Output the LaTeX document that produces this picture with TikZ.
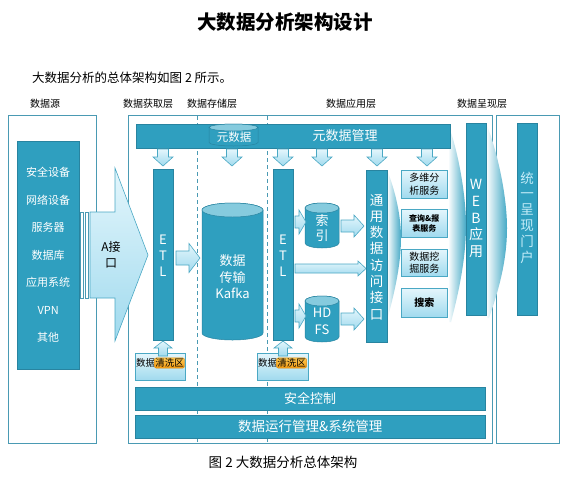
\documentclass[tikz,border=0pt]{standalone}
\usepackage{fontspec}
\setmainfont{Noto Sans CJK SC}
\usetikzlibrary{calc}
\definecolor{tealm}{HTML}{2F9FBF}
\definecolor{tealb}{HTML}{2884A0}
\definecolor{frame}{HTML}{4A9AB3}
\definecolor{lb1}{HTML}{E4F6FC}
\definecolor{lb2}{HTML}{A0DAEE}
\definecolor{arb}{HTML}{4AA8C4}
\definecolor{cyltop}{HTML}{86CBDE}
\definecolor{orl}{HTML}{FFC84E}
\definecolor{ord}{HTML}{F39A12}
\definecolor{orb}{HTML}{D98A10}
\definecolor{pale}{HTML}{C4ECF8}
\newcommand\dnarr[1]{\path[blk] (#1) ++(-5.5,0) -- ++(11,0) -- ++(0,8) -- ++(4.5,0) -- ++(-10,9) -- ++(-10,-9) -- ++(4.5,0) -- cycle;}
\newcommand\rtarr[5]{\path[blk] (#1) ++(0,-#3) -- ++({#2-#5},0) -- ++(0,{#3-#4}) -- ++(#5,#4) -- ++(-#5,#4) -- ++(0,{#3-#4}) -- ++({#5-#2},0) -- cycle;}
\newcommand\uparr[5]{\path[blk] (#1) ++(-#3,0) -- ++(0,{#5-#2}) -- ++({#3-#4},0) -- ++(#4,-#5) -- ++(#4,#5) -- ++({#3-#4},0) -- ++(0,{#2-#5}) -- cycle;}
\newcommand\mycyl[6]{%
 \path[cylbody] (#2,{#3+#6}) -- (#2,{#5-#6}) arc[start angle=180, end angle=0, x radius={(#4-#2)/2}, y radius=#6] -- (#4,{#3+#6}) arc[start angle=0, end angle=-180, x radius={(#4-#2)/2}, y radius=#6] -- cycle;
 \path[cyltopst] ({(#2+#4)/2},{#3+#6}) ellipse[x radius={(#4-#2)/2}, y radius=#6];
 \coordinate (#1) at ({(#2+#4)/2},{(#3+#5)/2});}
\begin{document}
\begin{tikzpicture}[x=1pt,y=-1pt,
 frm/.style={draw=frame, line width=0.8pt, fill=white, rectangle, inner sep=0pt, anchor=north west},
 bar/.style={fill=tealm, draw=tealb, line width=0.4pt, rectangle, inner sep=0pt, anchor=north west, text=white},
 svc/.style={top color=lb1, bottom color=lb2, draw=arb, line width=0.6pt, rectangle, inner sep=0pt, anchor=north west, align=center, minimum width=46pt},
 blk/.style={draw=arb, line width=0.6pt, top color=lb1, bottom color=lb2},
 lbl/.style={inner sep=0pt, font=\fontsize{10}{12}\selectfont},
 vtxt/.style={inner sep=0pt, align=center, text=white},
 cylbody/.style={fill=tealm, draw=tealb, line width=0.5pt},
 cyltopst/.style={fill=cyltop, draw=tealb, line width=0.5pt},
 hl/.style={top color=orl, bottom color=ord, draw=orb, rounded corners=2pt, inner sep=0.8pt, line width=0.4pt},
 dashln/.style={draw=frame, dash pattern=on 4pt off 3pt, line width=0.7pt},
 chev/.style={left color=white, right color=tealm!90},
 strip/.style={draw=frame, fill=white, line width=0.5pt}
]
\useasboundingbox (0,0) rectangle (570,477);
% titles
\node[inner sep=0pt, font=\fontsize{19.5}{22}\selectfont\bfseries] (title) at (285,22) {大数据分析架构设计};
\node[inner sep=0pt, anchor=west, font=\fontsize{12.5}{15}\selectfont] (sub) at (32,78) {大数据分析的总体架构如图 2 所示。};
\node[lbl] (l1) at (45,104) {数据源};
\node[lbl] (l2) at (148,104) {数据获取层};
\node[lbl] (l3) at (212,104) {数据存储层};
\node[lbl] (l4) at (351,104) {数据应用层};
\node[lbl] (l5) at (482,104) {数据呈现层};
% outer frames
\node[frm, minimum width=88pt, minimum height=328pt] (src) at (8,115) {};
\node[frm, minimum width=364pt, minimum height=328pt] (main) at (128,115) {};
\node[frm, minimum width=63pt, minimum height=328pt] (pres) at (496,115) {};
% dashed separators
\coordinate (da1) at (197,116); \coordinate (da2) at (197,442);
\coordinate (db1) at (267,116); \coordinate (db2) at (267,442);
\draw[dashln] (da1) -- (da2);
\draw[dashln] (db1) -- (db2);
% chevrons
\shade[chev] (387,170) .. controls (395,190) and (401,215) .. (401,238) .. controls (401,265) and (394,295) .. (387,320) -- cycle;
\shade[chev] (448,124) .. controls (458,150) and (466,195) .. (466,225) .. controls (466,260) and (458,295) .. (451,322) -- (448,322) -- cycle;
\shade[chev] (486,123) .. controls (497,150) and (507,195) .. (507,228) .. controls (507,262) and (498,292) .. (489,318) -- (486,318) -- cycle;
% data source
\node[bar, minimum width=62pt, minimum height=228pt, align=center, font=\fontsize{11}{27.5}\selectfont] (srcin) at (17,141) {安全设备\\网络设备\\服务器\\数据库\\应用系统\\VPN\\其他};
\draw[strip] (80.5,212) rectangle (83.5,298);
\draw[strip] (85,212) rectangle (88,298);
\path[blk] (90,212) -- (115,212) -- (115,168) -- (148,255) -- (115,341) -- (115,298) -- (90,298) -- cycle;
\node[inner sep=0pt, align=center, font=\fontsize{12}{16}\selectfont] (aif) at (111,255) {A接\\口};
% top bar
\node[bar, minimum width=314pt, minimum height=24pt] (meta) at (136,124) {};
\node[inner sep=0pt, text=white, font=\fontsize{13}{15}\selectfont] (metat) at (345,135.5) {元数据管理};
\mycyl{mcyl}{209}{124}{258}{146}{3.5}
\node[inner sep=0pt, text=white, font=\fontsize{11.5}{13}\selectfont] (mcylt) at (234,137) {元数据};
% down arrows
\coordinate (d1) at (163,149); \coordinate (d2) at (232,149); \coordinate (d3) at (283,149);
\coordinate (d4) at (322,149); \coordinate (d5) at (377,149); \coordinate (d6) at (427,149);
\dnarr{d1}\dnarr{d2}\dnarr{d3}\dnarr{d4}\dnarr{d5}\dnarr{d6}
% ETL bars
\node[bar, minimum width=20pt, minimum height=171pt] (etl1) at (153,169) {};
\node[vtxt, font=\fontsize{13}{16}\selectfont] (etl1t) at (163,256) {E\\T\\L};
\node[bar, minimum width=20pt, minimum height=171pt] (etl2) at (273,169) {};
\node[vtxt, font=\fontsize{13}{16}\selectfont] (etl2t) at (283,256) {E\\T\\L};
% kafka
\mycyl{kafka}{202}{203}{263}{340}{7}
\node[vtxt, font=\fontsize{13}{16.5}\selectfont] (kafkat) at (232.5,277) {数据\\传输\\Kafka};
\coordinate (r1) at (176,258);
\rtarr{r1}{24}{7}{14.5}{11}
% index, hdfs
\mycyl{idx}{305}{203}{339}{248}{5}
\node[vtxt, font=\fontsize{13}{15}\selectfont] (idxt) at (322,228.5) {索\\引};
\mycyl{hdfs}{305}{296}{339}{342}{5}
\node[vtxt, font=\fontsize{13}{16.5}\selectfont] (hdfst) at (322,321.5) {HD\\FS};
\coordinate (r2) at (295,222); \rtarr{r2}{11}{6}{12}{7}
\coordinate (r3) at (295,316); \rtarr{r3}{11}{6}{12}{7}
\coordinate (r4) at (341,226); \rtarr{r4}{23}{6}{11}{10}
\coordinate (r5) at (341,319); \rtarr{r5}{23}{6}{11}{10}
\coordinate (r6) at (295,268.5); \rtarr{r6}{71}{4.5}{7.5}{8}
% access interface
\node[bar, minimum width=21pt, minimum height=172pt] (api) at (366,170) {};
\node[vtxt, font=\fontsize{13.5}{16.3}\selectfont] (apit) at (376.5,257) {通\\用\\数\\据\\访\\问\\接\\口};
% services
\node[svc, minimum height=28pt, font=\fontsize{10}{12.5}\selectfont] (s1) at (401,170) {多维分\\析服务};
\node[svc, minimum height=28pt, font=\fontsize{8}{10.5}\selectfont\bfseries] (s2) at (401,209) {查询\&报\\表服务};
\node[svc, minimum height=27pt, font=\fontsize{10}{12.5}\selectfont] (s3) at (401,249) {数据挖\\掘服务};
\node[svc, minimum height=29pt, font=\fontsize{10}{12}\selectfont\bfseries] (s4) at (401,288) {搜索};
% web
\node[bar, minimum width=20pt, minimum height=192pt] (web) at (466,123) {};
\node[vtxt, font=\fontsize{14}{16.8}\selectfont] (webt) at (476,218.5) {W\\E\\B\\应\\用};
% portal
\node[bar, minimum width=20pt, minimum height=192pt] (portal) at (517,123) {};
\node[vtxt, text=pale, font=\fontsize{13.5}{15.8}\selectfont] (portalt) at (527,217.5) {统\\一\\呈\\现\\门\\户};
% cleansing zones
\node[svc, minimum width=50pt, minimum height=27pt] (c1) at (135,353) {};
\node[svc, minimum width=51pt, minimum height=27pt] (c2) at (257,353) {};
\coordinate (u1) at (163,356); \uparr{u1}{15}{4.5}{9}{7}
\coordinate (u2) at (283,356); \uparr{u2}{15}{4.5}{9}{7}
\node[inner sep=0pt, font=\fontsize{9.5}{11}\selectfont] (c1a) at (145.5,363) {数据};
\node[hl, font=\fontsize{9.5}{11}\selectfont] (c1b) at (169.5,363) {清洗区};
\node[inner sep=0pt, font=\fontsize{9.5}{11}\selectfont] (c2a) at (267.5,363) {数据};
\node[hl, font=\fontsize{9.5}{11}\selectfont] (c2b) at (291.5,363) {清洗区};
% bottom bars
\node[bar, minimum width=350pt, minimum height=23pt, font=\fontsize{13}{15}\selectfont] (sec) at (135,387) {安全控制};
\node[bar, minimum width=350pt, minimum height=23pt, font=\fontsize{13.5}{15}\selectfont] (ops) at (135,415) {数据运行管理\&系统管理};
% caption
\node[inner sep=0pt, font=\fontsize{13.5}{15}\selectfont] (cap) at (283,462) {图 2 大数据分析总体架构};
\end{tikzpicture}
\end{document}
